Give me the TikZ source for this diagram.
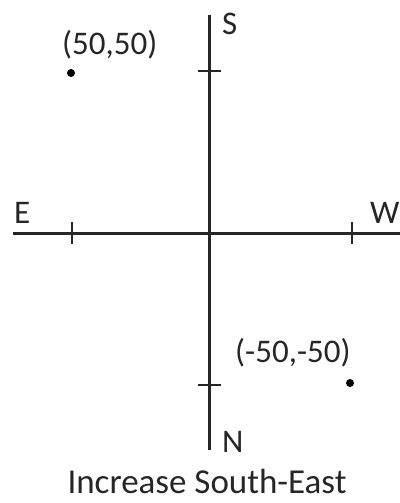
\documentclass[tikz,border=0pt]{standalone}
\usepackage{fontspec}
\setmainfont{Carlito}
\usetikzlibrary{positioning}

\begin{document}
\begin{tikzpicture}[x=1pt, y=-1pt, font=\fontsize{33}{38}\selectfont,
    eje/.style={line width=3pt, black!85},
    marca/.style={line width=2pt, black!85},
    punto/.style={circle, fill=black, inner sep=0pt, minimum size=8pt},
    rotulo/.style={inner sep=0pt, anchor=base west, text=black!85}]
  \useasboundingbox (0,0) rectangle (399,503);

  % Ejes (direcciones de la brujula)
  \coordinate (arriba) at (209,15);
  \coordinate (abajo) at (209,450);
  \coordinate (izq) at (13,233);
  \coordinate (der) at (402,233);
  \draw[eje] (arriba) -- (abajo);
  \draw[eje] (izq) -- (der);

  % Marcas sobre los ejes
  \foreach \y in {71,385} \draw[marca] (198,\y) -- (221,\y);
  \foreach \x in {72,352} \draw[marca] (\x,222) -- (\x,244);

  % Rotulos de los ejes
  \node[rotulo] (S) at (222,35) {S};
  \node[rotulo] (N) at (222,452) {N};
  \node[rotulo] (E) at (14,223) {E};
  \node[rotulo] (W) at (370,223) {W};

  % Puntos
  \node[punto] (p1) at (71,73) {};
  \node[rotulo] (t1) at (62,55) {(50,50)};
  \node[punto] (p2) at (350,383) {};
  \node[rotulo] (t2) at (235,362) {(-50,-50)};

  % Titulo
  \node[inner sep=0pt, anchor=base, text=black!85, font=\fontsize{35}{42}\selectfont] (titulo) at (207,493) {Increase South-East};
\end{tikzpicture}
\end{document}
